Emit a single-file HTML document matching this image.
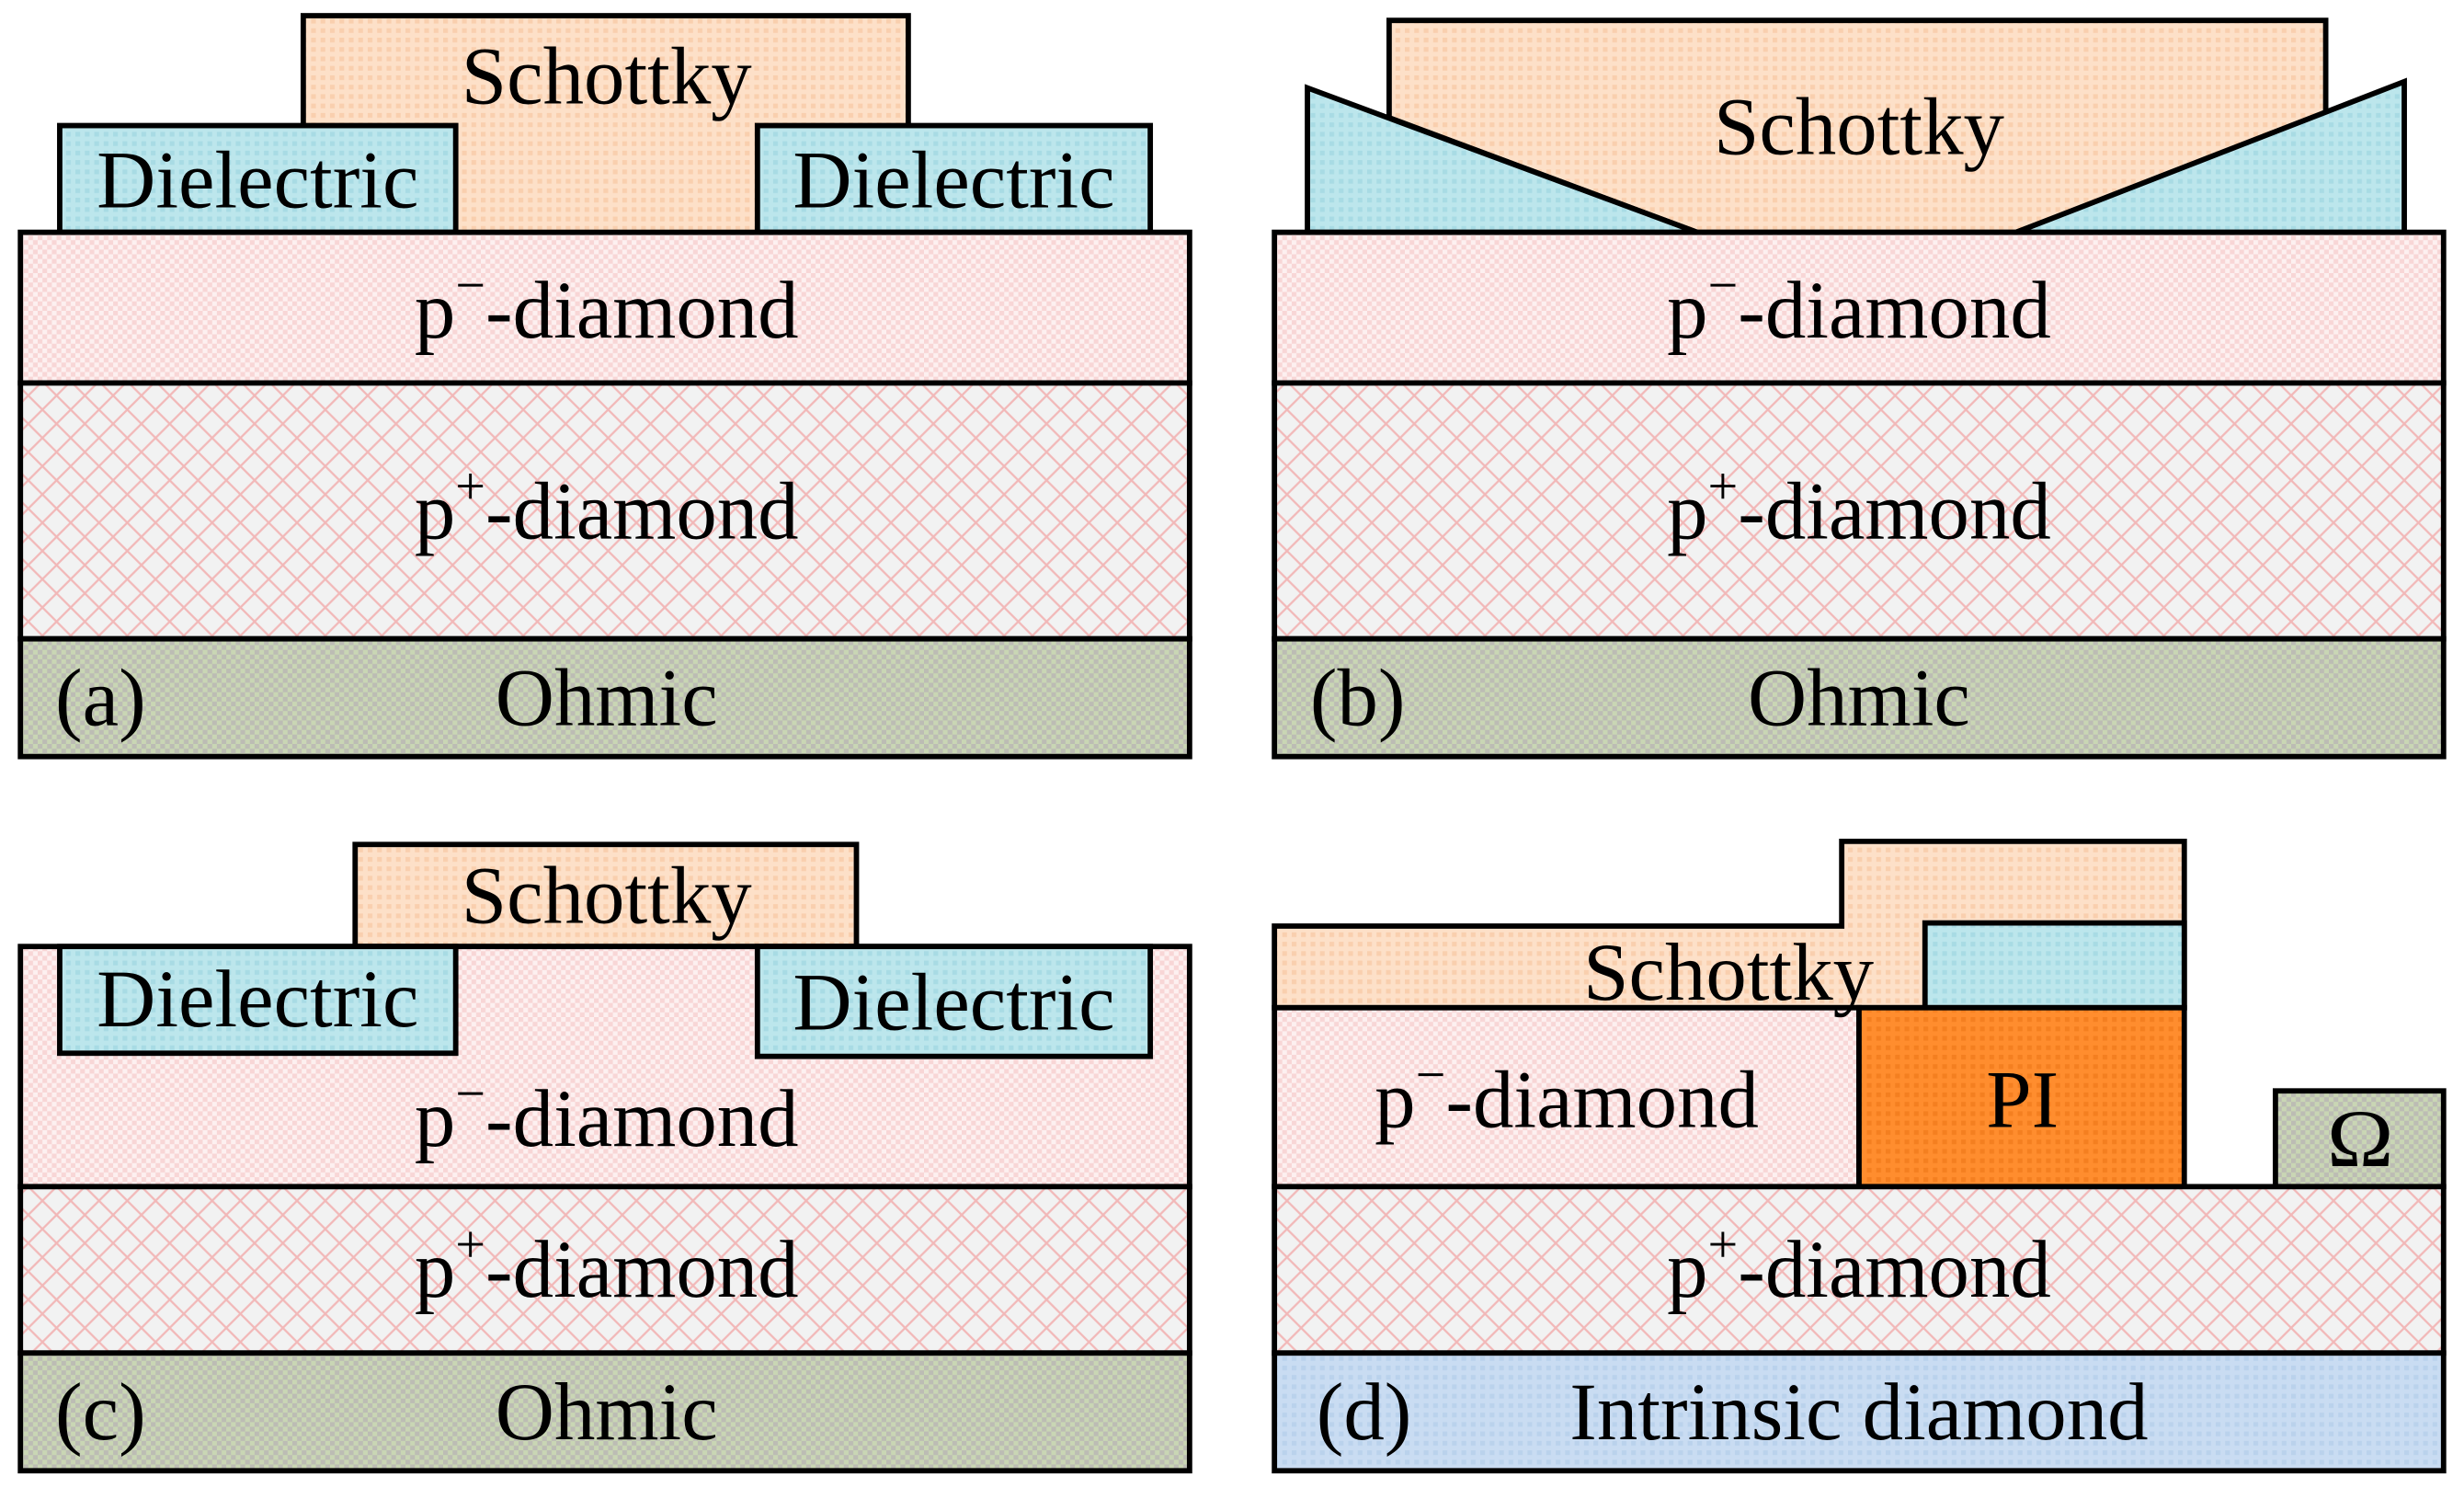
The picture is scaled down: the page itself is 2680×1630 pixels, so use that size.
<!DOCTYPE html>
<html><head><meta charset="utf-8"><style>html,body{margin:0;padding:0;background:#fff}svg{display:block}</style></head>
<body>
<svg width="2680" height="1630" viewBox="0 0 1568 955" preserveAspectRatio="none" xmlns="http://www.w3.org/2000/svg" font-family="Liberation Serif, serif" font-size="52" text-anchor="middle">
<defs>
<pattern id="pm" width="6" height="6" patternUnits="userSpaceOnUse"><rect width="6" height="6" fill="#fdf0f0"/><rect width="3" height="3" fill="#f8d6d6"/><rect x="3" y="3" width="3" height="3" fill="#f8d6d6"/></pattern>
<pattern id="pp" width="18" height="18" patternUnits="userSpaceOnUse"><rect width="18" height="18" fill="#f2f2f2"/><path d="M0 0L18 18M18 0L0 18" stroke="#f2b8b8" stroke-width="1.3"/></pattern>
<pattern id="sc" width="6" height="6" patternUnits="userSpaceOnUse"><rect width="6" height="6" fill="#fde0c8"/><rect width="3" height="3" fill="#f9cfae"/></pattern>
<pattern id="di" width="6" height="6" patternUnits="userSpaceOnUse"><rect width="6" height="6" fill="#bce6ec"/><rect width="3" height="3" fill="#a8dbe4"/></pattern>
<pattern id="oh" width="6" height="6" patternUnits="userSpaceOnUse"><rect width="6" height="6" fill="#c9d6b4"/><rect width="3" height="3" fill="#bcbcb4"/><rect x="3" y="3" width="3" height="3" fill="#bcbcb4"/></pattern>
<pattern id="in" width="6" height="6" patternUnits="userSpaceOnUse"><rect width="6" height="6" fill="#c9dcf2"/><rect width="3" height="3" fill="#bad2ec"/></pattern>
<pattern id="pi" width="6" height="6" patternUnits="userSpaceOnUse"><rect width="6" height="6" fill="#ff8d2e"/><rect width="3" height="3" fill="#f47f20"/></pattern>
</defs>
<g stroke="#000" stroke-width="3.4">
<rect x="193" y="10" width="385" height="140" fill="url(#sc)"/>
<rect x="38" y="80" width="252" height="68" fill="url(#di)"/>
<rect x="482" y="80" width="250" height="68" fill="url(#di)"/>
<rect x="13" y="148" width="744" height="96" fill="url(#pm)"/>
<rect x="13" y="244" width="744" height="163" fill="url(#pp)"/>
<rect x="13" y="407" width="744" height="75" fill="url(#oh)"/>
<polygon points="884,13 1480,13 1480,73 1283,148 1080,148 884,75" fill="url(#sc)"/>
<polygon points="832,56 1080,148 832,148" fill="url(#di)"/>
<polygon points="1530,52 1530,148 1283,148" fill="url(#di)"/>
<rect x="811" y="148" width="744" height="96" fill="url(#pm)"/>
<rect x="811" y="244" width="744" height="163" fill="url(#pp)"/>
<rect x="811" y="407" width="744" height="75" fill="url(#oh)"/>
<rect x="226" y="538" width="319" height="65" fill="url(#sc)"/>
<rect x="13" y="603" width="744" height="153" fill="url(#pm)"/>
<rect x="38" y="603" width="252" height="68" fill="url(#di)"/>
<rect x="482" y="603" width="250" height="70" fill="url(#di)"/>
<rect x="13" y="756" width="744" height="106" fill="url(#pp)"/>
<rect x="13" y="862" width="744" height="75" fill="url(#oh)"/>
<polygon points="811,590 1172,590 1172,536 1390,536 1390,642 811,642" fill="url(#sc)"/>
<rect x="1225" y="588" width="165" height="54" fill="url(#di)"/>
<rect x="811" y="642" width="372" height="114" fill="url(#pm)"/>
<rect x="1183" y="642" width="207" height="114" fill="url(#pi)"/>
<rect x="1448" y="695" width="107" height="61" fill="url(#oh)"/>
<rect x="811" y="756" width="744" height="106" fill="url(#pp)"/>
<rect x="811" y="862" width="744" height="75" fill="url(#in)"/>
</g>
<g fill="#000">
<text x="386" y="66">Schottky</text>
<text x="164" y="132">Dielectric</text>
<text x="607" y="132">Dielectric</text>
<text x="386" y="215">p<tspan dy="-22" font-size="34">−</tspan><tspan dy="22">-diamond</tspan></text>
<text x="386" y="343">p<tspan dy="-22" font-size="34">+</tspan><tspan dy="22">-diamond</tspan></text>
<text x="386" y="462">Ohmic</text>
<text x="64" y="462">(a)</text>
<text x="1183" y="98">Schottky</text>
<text x="1183" y="215">p<tspan dy="-22" font-size="34">−</tspan><tspan dy="22">-diamond</tspan></text>
<text x="1183" y="343">p<tspan dy="-22" font-size="34">+</tspan><tspan dy="22">-diamond</tspan></text>
<text x="1183" y="462">Ohmic</text>
<text x="864" y="462">(b)</text>
<text x="386" y="588">Schottky</text>
<text x="164" y="654">Dielectric</text>
<text x="607" y="656">Dielectric</text>
<text x="386" y="730">p<tspan dy="-22" font-size="34">−</tspan><tspan dy="22">-diamond</tspan></text>
<text x="386" y="826">p<tspan dy="-22" font-size="34">+</tspan><tspan dy="22">-diamond</tspan></text>
<text x="386" y="917">Ohmic</text>
<text x="64" y="917">(c)</text>
<text x="1100" y="637">Schottky</text>
<text x="997" y="718">p<tspan dy="-22" font-size="34">−</tspan><tspan dy="22">-diamond</tspan></text>
<text x="1287" y="718">PI</text>
<text x="1502" y="743" font-size="52" transform="translate(1502,0) scale(1.1,1) translate(-1502,0)">Ω</text>
<text x="1183" y="826">p<tspan dy="-22" font-size="34">+</tspan><tspan dy="22">-diamond</tspan></text>
<text x="1183" y="917">Intrinsic diamond</text>
<text x="868" y="917">(d)</text>
</g>
</svg>
</body></html>
